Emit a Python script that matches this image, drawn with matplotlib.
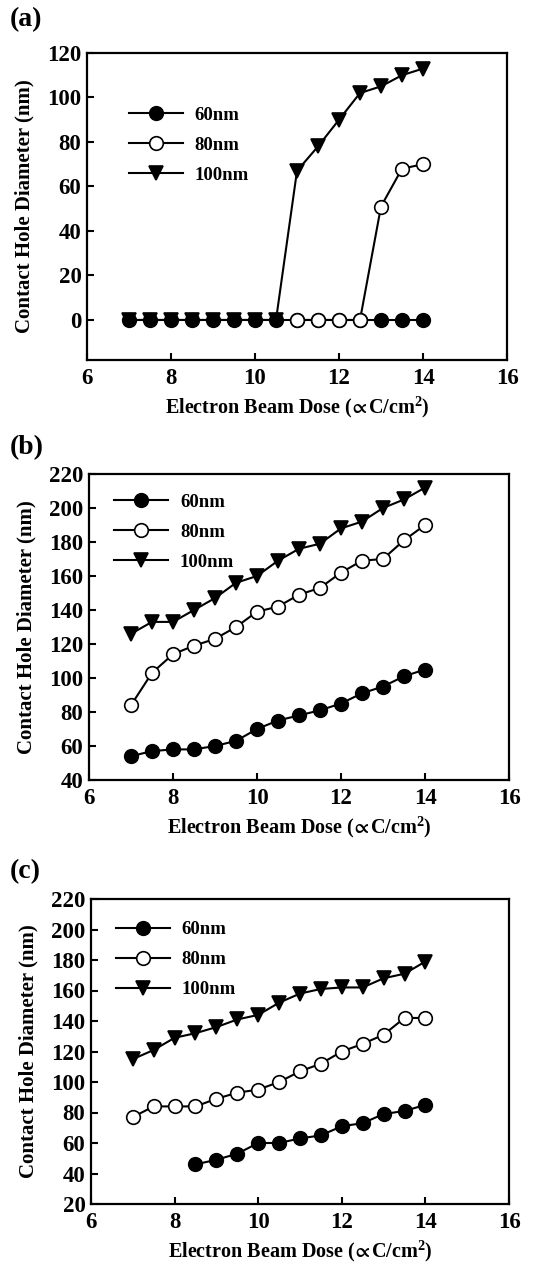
import numpy as np
import matplotlib
matplotlib.use("Agg")
import matplotlib.pyplot as plt

plt.rcParams["font.family"] = ["Liberation Serif", "DejaVu Serif"]
plt.rcParams["font.weight"] = "bold"
plt.rcParams["mathtext.fontset"] = "custom"
plt.rcParams["mathtext.rm"] = "Liberation Serif:bold"
plt.rcParams["mathtext.bf"] = "Liberation Serif:bold"
plt.rcParams["mathtext.default"] = "bf"
plt.rcParams["mathtext.fallback"] = "stix"

# dose values (uC/cm2)
dose = [7, 7.5, 8, 8.5, 9, 9.5, 10, 10.5, 11, 11.5, 12, 12.5, 13, 13.5, 14]

# panel (a)
a_60 = [0, 0, 0, 0, 0, 0, 0, 0, 0, 0, 0, 0, 0, 0, 0]
a_80_dose = [11, 11.5, 12, 12.5, 13, 13.5, 14]
a_80 = [0, 0, 0, 0, 51, 68, 70]
a_100 = [0, 0, 0, 0, 0, 0, 0, 0, 67, 78, 90, 102, 105, 110, 113]

# panel (b)
b_60 = [54, 57, 58, 58, 60, 63, 70, 75, 78, 81, 85, 91, 95, 101, 105]
b_80 = [84, 103, 114, 119, 123, 130, 139, 142, 149, 153, 162, 169, 170, 181, 190]
b_100 = [126, 133, 133, 140, 147, 156, 160, 169, 176, 179, 188, 192, 200, 205, 212]

# panel (c)
c_60_dose = [8.5, 9, 9.5, 10, 10.5, 11, 11.5, 12, 12.5, 13, 13.5, 14]
c_60 = [46, 49, 53, 60, 60, 63, 65, 71, 73, 79, 81, 85]
c_80 = [77, 84, 84, 84, 89, 93, 95, 100, 107, 112, 120, 125, 131, 142, 142]
c_100 = [115, 121, 129, 132, 136, 141, 144, 152, 158, 161, 162, 162, 168, 171, 179]

labels = ["60nm", "80nm", "100nm"]

W, H = 545, 1263
fig = plt.figure(figsize=(W / 100, H / 100), dpi=100)


def make_axes(left, top, right, bottom):
    return fig.add_axes([left / W, 1 - bottom / H, (right - left) / W, (bottom - top) / H])


def style(ax, ylim, yticks):
    ax.set_xlim(6, 16)
    ax.set_ylim(*ylim)
    ax.set_xticks([6, 8, 10, 12, 14, 16])
    ax.set_yticks(yticks)
    ax.tick_params(direction="in", length=5, width=1.5, labelsize=16.5)
    ax.tick_params(axis="x", pad=6)
    ax.tick_params(axis="y", pad=4)
    for s in ax.spines.values():
        s.set_linewidth(1.6)
    ax.set_xlabel(r"Electron Beam Dose ($\!\propto\!$C/cm$^{2}$)", fontsize=14.5, fontweight="bold", labelpad=4)
    ax.set_ylabel("Contact Hole Diameter (nm)", fontsize=15, fontweight="bold", labelpad=9)


kw = dict(color="black", lw=1.5, ms=9.8, mew=1.2)

panels = [
    ("(a)", (87, 53, 507, 360), (-18, 120), range(0, 121, 20), 20,
     [(dose, a_100, "v", "black", 2), (dose, a_60, "o", "black", 3), (a_80_dose, a_80, "o", "white", 4)],
     (0.06, 0.88)),
    ("(b)", (89, 474, 509, 780), (40, 220), range(40, 221, 20), 448,
     [(dose, b_60, "o", "black", 3), (dose, b_80, "o", "white", 4), (dose, b_100, "v", "black", 2)],
     (0.02, 0.99)),
    ("(c)", (91, 899, 509, 1204), (20, 220), range(20, 221, 20), 872,
     [(c_60_dose, c_60, "o", "black", 3), (dose, c_80, "o", "white", 4), (dose, c_100, "v", "black", 2)],
     (0.02, 0.982)),
]

for tag, box, ylim, yt, ty, series, lpos in panels:
    ax = make_axes(*box)
    handles = {}
    for x, y, m, fc, z in series:
        h, = ax.plot(x, y, marker=m, mfc=fc, mec="black", zorder=z, **kw)
        key = "100nm" if m == "v" else ("60nm" if fc == "black" else "80nm")
        handles[key] = h
    style(ax, ylim, yt)
    ax.legend([handles[k] for k in labels], labels, loc="upper left", bbox_to_anchor=lpos,
              frameon=False, handlelength=2.85, labelspacing=0.68,
              handletextpad=0.65, prop={"weight": "bold", "size": 13.5})
    fig.text(10 / W, 1 - ty / H, tag, fontsize=20, fontweight="bold", va="center", ha="left")

fig.savefig("out.png", dpi=100)
